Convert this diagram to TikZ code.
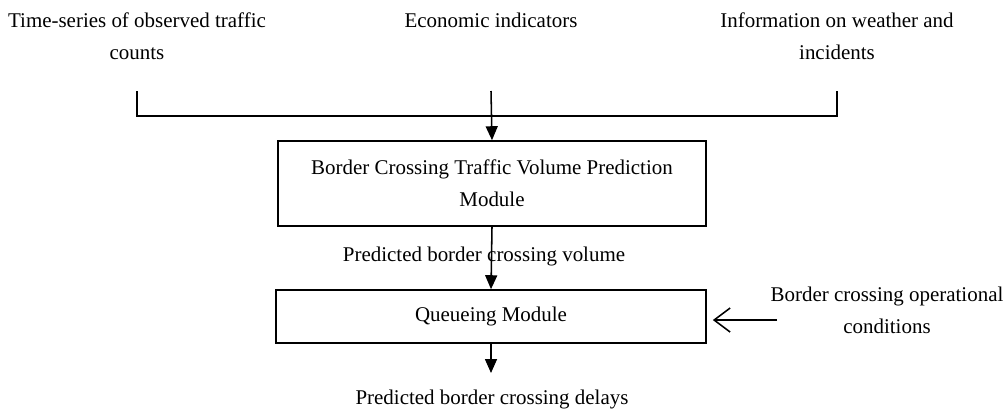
\documentclass[tikz,border=0pt]{standalone}
\usepackage{fontspec}
\setmainfont{Liberation Serif}
\usetikzlibrary{arrows.meta}

\begin{document}
\begin{tikzpicture}[
  x=0.025cm, y=-0.025cm, line width=1.1pt,
  txt/.style={align=center,inner sep=0pt,font=\fontsize{14.9}{22.8}\selectfont},
  module/.style={draw,inner sep=0pt,align=center,font=\fontsize{14.9}{22.8}\selectfont},
  flow/.style={-{Triangle[length=0.35cm,width=0.3cm]}},
  feed/.style={-{Straight Barb[length=0.4cm,width=0.6cm]}}
]
  \useasboundingbox (0,0) rectangle (1006,410);
  % inputs
  \node[txt] (series) at (137,36) {Time-series of observed traffic\\counts};
  \node[txt] (econ) at (491,20) {Economic indicators};
  \node[txt] (weather) at (837,36) {Information on weather and\\incidents};
  \coordinate (seriesend) at (137,91);
  \coordinate (econend) at (491,91);
  \coordinate (weatherend) at (837,91);
  \coordinate (bar) at (491,116);
  % modules
  \node[module,minimum width=10.7cm,minimum height=2.125cm] (predict) at (492,183.5)
    {Border Crossing Traffic Volume Prediction\\Module};
  \node[module,minimum width=10.75cm,minimum height=1.325cm] (queue) at (491,316.5)
    {Queueing Module};
  \node[txt] (volume) at (484,256) {Predicted border crossing volume};
  \node[txt] (ops) at (887,310) {Border crossing operational\\conditions};
  \coordinate (opsend) at (777,320);
  \coordinate (delayend) at (491,373);
  \node[txt] (delays) at (492,399) {Predicted border crossing delays};
  % connectors
  \draw (seriesend) |- (bar) -| (weatherend);
  \draw[flow] (econend) -- (predict.north);
  \draw[flow] (predict.south) -- (queue.north);
  \draw[feed,shorten >=0.15cm] (opsend) -- (opsend -| queue.east);
  \draw[flow] (queue.south) -- (delayend);
\end{tikzpicture}
\end{document}
